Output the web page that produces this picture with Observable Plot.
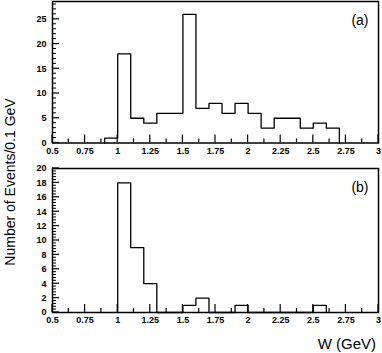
<!DOCTYPE html>
<html><head><meta charset="utf-8">
<script src="https://cdn.jsdelivr.net/npm/d3@7"></script>
<script src="https://cdn.jsdelivr.net/npm/@observablehq/plot@0.6"></script>
<style>
body{margin:0;background:#fff;font-family:"Liberation Sans",Arial,sans-serif;}
#wrap{position:relative;width:382px;height:353px;overflow:hidden;}
#wrap > div, #wrap > svg{position:absolute;}
.lab{position:absolute;font-size:14px;color:#000;white-space:nowrap;}
</style></head><body>
<div id="wrap"></div>
<script>
// bin lower edges (GeV), bin width 0.1
const binStartsA = [0.9,1.0,1.1,1.2,1.3,1.4,1.5,1.6,1.7,1.8,1.9,2.0,2.1,2.2,2.3,2.4,2.5,2.6];
const countsA    = [1,  18, 5,  4,  6,  6,  26, 7,  8,  6,  8,  6,  3,  5,  5,  3,  4,  3];
const binStartsB = [1.0,1.1,1.2,1.3,1.4,1.5,1.6,1.7,1.8,1.9,2.0,2.1,2.2,2.3,2.4,2.5];
const countsB    = [18, 9,  4,  0,  0,  1,  2,  0,  0,  1,  0,  0,  0,  0,  0,  1];
const xTicks = [0.5,0.75,1,1.25,1.5,1.75,2,2.25,2.5,2.75,3];
const xMinor = [0.625,0.875,1.125,1.375,1.625,1.875,2.125,2.375,2.625,2.875];
const yTicksA = [0,5,10,15,20,25];
const yTicksB = [0,2,4,6,8,10,12,14,16,18,20];
const binWidth = 0.1;

function stepPoints(starts, counts){
  const pts = [{x: starts[0], y: 0}];
  starts.forEach((s,i)=>{ pts.push({x:s,y:counts[i]}); pts.push({x:s+binWidth,y:counts[i]}); });
  pts.push({x: starts[starts.length-1]+binWidth, y: 0});
  return pts;
}

function panel(starts, counts, yDomain, yTicks, yMinorStep, height, mt, mb, label){
  const yMinor = d3.range(yDomain[0], yDomain[1]+1e-9, yMinorStep).filter(v=>!yTicks.some(t=>Math.abs(t-v)<1e-9));
  return Plot.plot({
    width: 382, height, marginLeft: 52, marginRight: 4, marginTop: mt, marginBottom: mb,
    style: {fontFamily: "Liberation Sans, Arial, sans-serif", fontSize: "9px", fontWeight: "bold", color: "#000", background: "#fff"},
    x: {domain: [0.5, 3], axis: null},
    y: {domain: yDomain, axis: null},
    marks: [
      Plot.text(xTicks, {x: d=>d, y: yDomain[0], text: d=>String(d), dy: 8, lineAnchor: "middle", fill:"#000"}),
      Plot.text(yTicks, {x: 0.5, y: d=>d, text: d=>String(d), dx: -6, textAnchor: "end", fill:"#000"}),
      Plot.line(stepPoints(starts, counts), {x: "x", y: "y", stroke: "#000", strokeWidth: 1.3}),
      Plot.frame({stroke: "#000", strokeWidth: 1.5}),
      Plot.text([label], {frameAnchor: "top-right", dx: -10, dy: 14, fontSize: 14, fontWeight: "normal", fill:"#000"}),
      (index, scales) => {
        const g = d3.create("svg:g").attr("stroke", "#000").attr("stroke-width", 1.2);
        const yb = scales.y(yDomain[0]);
        const xl = scales.x(0.5);
        for (const t of xTicks) g.append("line").attr("x1", scales.x(t)).attr("x2", scales.x(t)).attr("y1", yb).attr("y2", yb-8);
        for (const t of xMinor) g.append("line").attr("x1", scales.x(t)).attr("x2", scales.x(t)).attr("y1", yb).attr("y2", yb-4);
        for (const t of yTicks) g.append("line").attr("x1", xl).attr("x2", xl+7).attr("y1", scales.y(t)).attr("y2", scales.y(t));
        for (const t of yMinor) g.append("line").attr("x1", xl).attr("x2", xl+4).attr("y1", scales.y(t)).attr("y2", scales.y(t)).attr("stroke-width", 1);
        return g.node();
      }
    ]
  });
}

const wrap = document.getElementById("wrap");
const a = panel(binStartsA, countsA, [0, 28.6], yTicksA, 1, 162, 1, 19.5, "(a)");
a.style.left = "0px"; a.style.top = "0px";
wrap.appendChild(a);
const b = panel(binStartsB, countsB, [0, 20], yTicksB, 0.4, 191, 6, 41, "(b)");
b.style.left = "0px"; b.style.top = "162px";
wrap.appendChild(b);

const yl = document.createElement("div");
yl.className = "lab";
yl.textContent = "Number of Events/0.1 GeV";
yl.style.left = "10px"; yl.style.top = "182px";
yl.style.transform = "translate(-50%,-50%) rotate(-90deg)";
wrap.appendChild(yl);
const xl = document.createElement("div");
xl.className = "lab";
xl.textContent = "W (GeV)";
xl.style.right = "6px"; xl.style.top = "335px";
xl.style.fontSize = "15px";
wrap.appendChild(xl);
</script>
</body></html>
